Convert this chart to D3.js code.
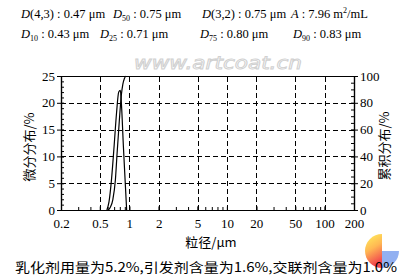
<!DOCTYPE html>
<html>
<head>
<meta charset="utf-8">
<script src="https://cdn.jsdelivr.net/npm/d3@7"></script>
<style>
  body { margin: 0; background: #fff; }
  svg { display: block; }
</style>
</head>
<body>
<svg id="chart" width="412" height="279"></svg>
<script>
// data
const freqSize = [0.59, 0.62, 0.66, 0.70, 0.74, 0.78, 0.81, 0.83, 0.87, 0.91, 0.94];
const freqVal  = [0, 1.5, 6, 12, 18, 22, 22.3, 20, 12, 5, 0];
const cumSize  = [0.61, 0.64, 0.68, 0.72, 0.75, 0.79, 0.83, 0.86, 0.89, 0.92];
const cumVal   = [0, 2, 8, 22, 42, 66, 86, 94, 98, 100];

const xTicks = [0.2, 0.5, 1, 2, 5, 10, 20, 50, 100, 200];
const xGrid = [0.5, 1, 2, 5, 10, 20, 50, 100];
const yLeftTicks = [0, 5, 10, 15, 20, 25];
const yRightTicks = [0, 20, 40, 60, 80, 100];

const line1 = [
  {x: 21, parts: [["D", "i"], ["(4,3) : 0.47 μm", ""]]},
  {x: 113, parts: [["D", "i"], ["50", "s"], [" : 0.75 μm", ""]]},
  {x: 202, parts: [["D", "i"], ["(3,2) : 0.75 μm", ""]]},
  {x: 291, parts: [["A", "i"], [" : 7.96 m", ""], ["2", "p"], ["/mL", ""]]}
];
const line2 = [
  {x: 21, parts: [["D", "i"], ["10", "s"], [" : 0.43 μm", ""]]},
  {x: 100, parts: [["D", "i"], ["25", "s"], [" : 0.71 μm", ""]]},
  {x: 200, parts: [["D", "i"], ["75", "s"], [" : 0.80 μm", ""]]},
  {x: 293, parts: [["D", "i"], ["90", "s"], [" : 0.83 μm", ""]]}
];

const svg = d3.select('#chart');
const serif = '"Liberation Serif", "DejaVu Serif", serif';
const cjk = '"Noto Sans CJK SC", sans-serif';

const plotL = 61, plotR = 354, plotT = 76, plotB = 210;
const x = d3.scaleLog().domain([0.2, 200]).range([plotL, plotR]);
const yL = d3.scaleLinear().domain([0, 25]).range([plotB, plotT]);
const yR = d3.scaleLinear().domain([0, 100]).range([plotB, plotT]);

// header text
function header(items, y) {
  items.forEach(it => {
    const t = svg.append('text').attr('x', it.x).attr('y', y)
      .attr('font-family', serif).attr('font-size', 12.5);
    let shift = 0;
    it.parts.forEach(p => {
      const s = t.append('tspan').text(p[0]);
      if (p[1] === 'i') s.attr('font-style', 'italic');
      if (p[1] === 's') { s.attr('font-size', 8).attr('dy', 3); shift = 3; }
      else if (p[1] === 'p') { s.attr('font-size', 8).attr('dy', -5); shift = -5; }
      else if (shift) { s.attr('dy', -shift); shift = 0; }
    });
  });
}
header(line1, 18);
header(line2, 38);

// watermark
svg.append('text').attr('x', 218).attr('y', 69).attr('text-anchor', 'middle')
  .attr('font-family', '"DejaVu Sans", sans-serif').attr('font-size', 17)
  .attr('font-style', 'italic')
  .attr('textLength', 168).attr('lengthAdjust', 'spacingAndGlyphs')
  .attr('fill', '#fff').attr('stroke', '#d0d0d0').attr('stroke-width', 0.9)
  .text('www.artcoat.cn');

// logo in the corner
const defs = svg.append('defs');
const grad = defs.append('linearGradient').attr('id', 'warm')
  .attr('x1', 0).attr('y1', 0).attr('x2', 0.3).attr('y2', 1);
grad.append('stop').attr('offset', '0%').attr('stop-color', '#fff24a');
grad.append('stop').attr('offset', '50%').attr('stop-color', '#ffb040');
grad.append('stop').attr('offset', '100%').attr('stop-color', '#f0303a');
const logo = svg.append('g').attr('transform', 'translate(382,251)');
logo.append('path').attr('d', d3.arc()({innerRadius: 0, outerRadius: 17, startAngle: Math.PI, endAngle: 2 * Math.PI}))
  .attr('fill', 'url(#warm)').attr('opacity', 0.9);
logo.append('path').attr('d', d3.arc()({innerRadius: 0, outerRadius: 17, startAngle: Math.PI / 2, endAngle: Math.PI}))
  .attr('fill', '#7fa2ee').attr('opacity', 0.85);

// grid
const grid = svg.append('g').attr('stroke', '#000').attr('stroke-width', 1)
  .attr('stroke-dasharray', '5,3');
grid.selectAll('.gx').data(xGrid).join('line')
  .attr('x1', d => Math.round(x(d)) + 0.5).attr('x2', d => Math.round(x(d)) + 0.5)
  .attr('y1', plotB).attr('y2', plotT);
grid.selectAll('.gy').data(yLeftTicks.slice(1, -1)).join('line')
  .attr('x1', plotL).attr('x2', plotR)
  .attr('y1', d => Math.round(yL(d)) + 0.5).attr('y2', d => Math.round(yL(d)) + 0.5);

// top border
svg.append('line').attr('x1', plotL).attr('x2', plotR).attr('y1', plotT + 0.5).attr('y2', plotT + 0.5)
  .attr('stroke', '#000');

// axes
const minorX = [];
[0.1, 1, 10, 100].forEach(dec => {
  for (let k = 1; k < 10; k++) {
    const v = +(dec * k).toPrecision(3);
    if (v >= 0.2 && v <= 200) minorX.push(v);
  }
});

svg.append('g').attr('transform', `translate(0,${plotB})`)
  .call(d3.axisBottom(x).tickValues(xTicks).tickFormat(d => d).tickSizeInner(-4).tickSizeOuter(0).tickPadding(9));
svg.append('g').attr('transform', `translate(0,${plotB})`)
  .call(d3.axisBottom(x).tickValues(minorX).tickFormat('').tickSizeInner(-3).tickSizeOuter(0));

const yAxisL = svg.append('g').attr('transform', `translate(${plotL},0)`)
  .call(d3.axisLeft(yL).tickValues(yLeftTicks).tickSizeInner(4).tickSizeOuter(0).tickPadding(2));
svg.append('g').attr('transform', `translate(${plotL},0)`)
  .call(d3.axisLeft(yL).tickValues(d3.range(0, 26, 1)).tickFormat('').tickSizeInner(-3).tickSizeOuter(0));

const yAxisR = svg.append('g').attr('transform', `translate(${plotR},0)`)
  .call(d3.axisRight(yR).tickValues(yRightTicks).tickSizeInner(4).tickSizeOuter(0).tickPadding(2));
svg.append('g').attr('transform', `translate(${plotR},0)`)
  .call(d3.axisRight(yR).tickValues(d3.range(0, 101, 5)).tickFormat('').tickSizeInner(-3).tickSizeOuter(0));

// major ticks cross the axis line
yAxisL.selectAll('.tick line').attr('x1', 3);
yAxisR.selectAll('.tick line').attr('x1', -3);

svg.selectAll('.domain').attr('stroke', '#000').attr('stroke-width', 1.2);
svg.selectAll('.tick line').attr('stroke', '#000');
svg.selectAll('.tick text').attr('font-family', serif).attr('font-size', 13).attr('fill', '#000');

// curves
const fLine = d3.line().x(d => x(d[0])).y(d => yL(d[1])).curve(d3.curveMonotoneX);
const cLine = d3.line().x(d => x(d[0])).y(d => yR(d[1])).curve(d3.curveMonotoneX);
svg.append('path').datum(d3.zip(freqSize, freqVal)).attr('d', fLine)
  .attr('fill', 'none').attr('stroke', '#000').attr('stroke-width', 1.2);
svg.append('path').datum(d3.zip(cumSize, cumVal)).attr('d', cLine)
  .attr('fill', 'none').attr('stroke', '#000').attr('stroke-width', 1.2);

// axis titles
svg.append('text').attr('transform', 'translate(34,147) rotate(-90)')
  .attr('text-anchor', 'middle').attr('font-family', cjk).attr('font-size', 13)
  .text('微分分布/%');
svg.append('text').attr('transform', 'translate(389,146) rotate(-90)')
  .attr('text-anchor', 'middle').attr('font-family', cjk).attr('font-size', 13)
  .text('累积分布/%');
svg.append('text').attr('x', 211).attr('y', 247).attr('text-anchor', 'middle')
  .attr('font-family', cjk).attr('font-size', 13).text('粒径/μm');
svg.append('text').attr('x', 206).attr('y', 272).attr('text-anchor', 'middle')
  .attr('font-family', cjk).attr('font-size', 13)
  .attr('textLength', 382).attr('lengthAdjust', 'spacingAndGlyphs')
  .text('乳化剂用量为5.2%,引发剂含量为1.6%,交联剂含量为1.0%');
</script>
</body>
</html>
